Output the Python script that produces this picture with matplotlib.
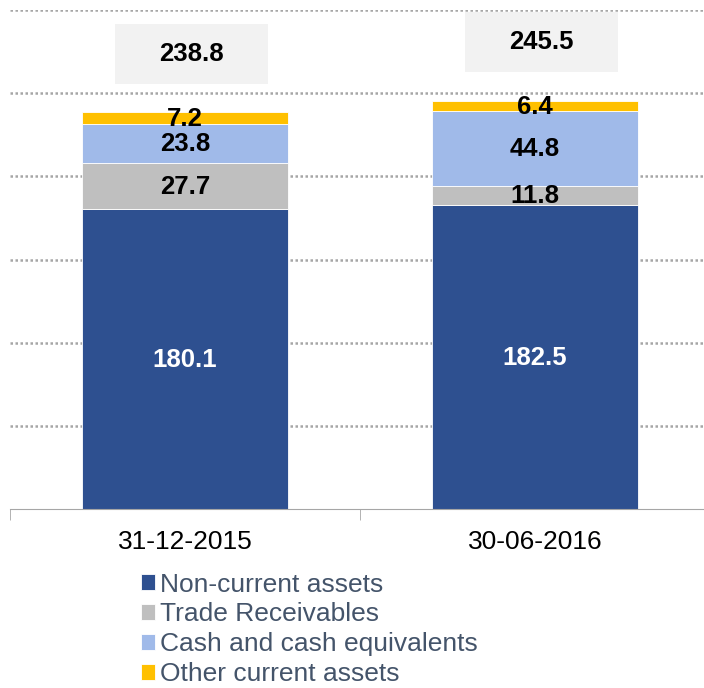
import matplotlib
matplotlib.use('Agg')
from matplotlib import pyplot as plt
from matplotlib.patches import Rectangle
import numpy as np

plt.rcParams['font.family'] = ['Liberation Sans', 'DejaVu Sans']

dates = ['31-12-2015', '30-06-2016']
non_current = [180.1, 182.5]
trade_receivables = [27.7, 11.8]
cash = [23.8, 44.8]
other_current = [7.2, 6.4]
totals = [238.8, 245.5]

series_names = ['Non-current assets', 'Trade Receivables',
                'Cash and cash equivalents', 'Other current assets']
series_colors = ['#2E5090', '#BFBFBF', '#A0BAE9', '#FFC000']
label_colors = ['white', 'black', 'black', 'black']

fig = plt.figure(figsize=(7.04, 6.88), dpi=100)
ax = fig.add_axes([10 / 704, 179 / 688, 700 / 704, 499 / 688])

x = np.arange(len(dates))
bar_width = 0.59
bottoms = np.zeros(len(dates))
handles = []
for values, name, color, lcolor in zip(
        [non_current, trade_receivables, cash, other_current],
        series_names, series_colors, label_colors):
    bars = ax.bar(x, values, bar_width, bottom=bottoms, color=color,
                  edgecolor='white', linewidth=0.6, label=name, zorder=3)
    handles.append(bars)
    for xi, v, b in zip(x, values, bottoms):
        ax.text(xi, b + v / 2 - 0.5, '{:.1f}'.format(v), ha='center',
                va='center', fontsize=18.5, fontweight='bold', color=lcolor,
                zorder=5)
    bottoms = bottoms + np.array(values)

# total boxes above bars
for xi, t in zip(x, totals):
    cy = t + 35
    ax.add_patch(Rectangle((xi - 0.2, cy - 18), 0.437, 36,
                           facecolor='#F2F2F2', edgecolor='none', zorder=4))
    ax.text(xi + 0.018, cy, '{:.1f}'.format(t), ha='center', va='center',
            fontsize=18.5, fontweight='bold', color='black', zorder=5)

ax.set_xlim(-0.5, 1.5)
ax.set_ylim(0, 300)
ax.set_yticks([50, 100, 150, 200, 250, 300])
ax.yaxis.grid(True, color='#A6A6A6', linestyle=(0, (1, 1)), linewidth=1.8,
              zorder=0)
ax.tick_params(axis='y', left=False, labelleft=False)

ax.set_xticks(x)
ax.set_xticklabels(dates, fontsize=19)
ax.set_xticks([-0.5, 0.5, 1.5], minor=True)
ax.tick_params(axis='x', which='major', length=0, pad=15)
ax.tick_params(axis='x', which='minor', length=8, color='#A6A6A6')

for side in ['top', 'left', 'right']:
    ax.spines[side].set_visible(False)
ax.spines['bottom'].set_color('#A6A6A6')
ax.spines['bottom'].set_zorder(6)

fig.legend(handles=handles, labels=series_names, loc='upper left',
           bbox_to_anchor=(130 / 704, 1 - 562 / 688), frameon=False,
           fontsize=19, labelcolor='#44546A', handlelength=0.55,
           handleheight=0.55, handletextpad=0.2, labelspacing=0.22,
           borderaxespad=0)

fig.savefig('out.png', dpi=100)
